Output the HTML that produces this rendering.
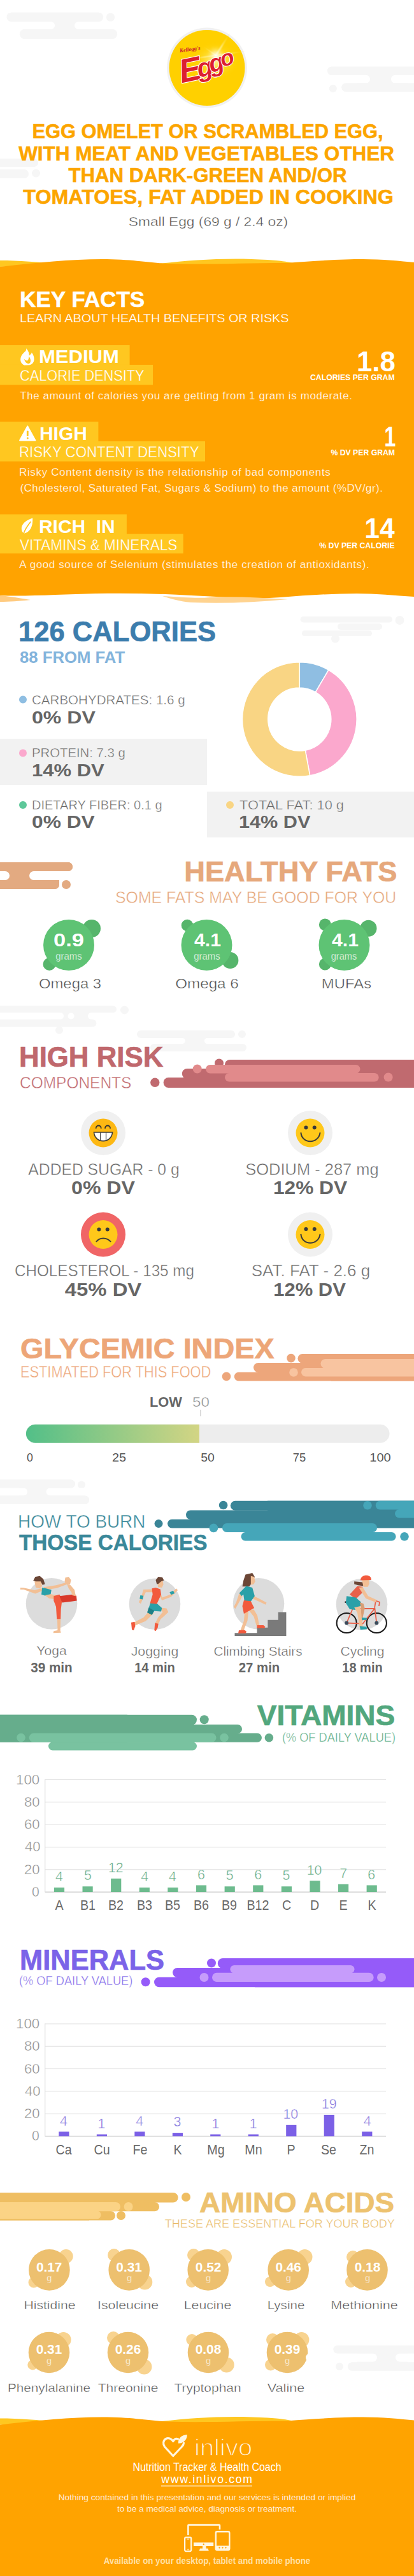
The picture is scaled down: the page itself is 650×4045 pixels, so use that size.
<!DOCTYPE html>
<html><head><meta charset="utf-8">
<style>
*{margin:0;padding:0;box-sizing:border-box}
html,body{width:650px;height:4045px;overflow:hidden;background:#fff}
body{font-family:"Liberation Sans",sans-serif;position:relative}
.t{position:absolute;white-space:nowrap}
</style></head><body>
<svg width="650" height="4045" style="position:absolute;left:0;top:0"><rect x="10.6" y="19.7" width="151.4" height="14.3" rx="7.2" fill="#f6f6f6"/><circle cx="173.5" cy="27.0" r="6.6" fill="#f6f6f6"/><rect x="31.0" y="46.0" width="153.0" height="15.0" rx="7.5" fill="#f6f6f6"/><rect x="62.0" y="30.0" width="88.0" height="20.0" fill="#f6f6f6"/><rect x="-20.0" y="34.0" width="106.0" height="12.0" rx="6.0" fill="#fff"/><rect x="117.0" y="34.0" width="133.0" height="12.0" rx="6.0" fill="#fff"/><rect x="31.0" y="46.0" width="153.0" height="15.0" rx="7.5" fill="#f6f6f6"/><rect x="10.6" y="19.7" width="151.4" height="14.3" rx="7.2" fill="#f6f6f6"/><rect x="514.0" y="104.7" width="186.0" height="13.1" rx="6.5" fill="#f6f6f6"/><rect x="536.4" y="130.6" width="163.6" height="13.4" rx="6.7" fill="#f6f6f6"/><circle cx="522.8" cy="139.0" r="6.0" fill="#f6f6f6"/><rect x="560.0" y="110.0" width="80.0" height="28.0" fill="#f6f6f6"/><rect x="480.0" y="117.8" width="101.0" height="12.8" rx="6.4" fill="#fff"/><rect x="614.0" y="117.8" width="146.0" height="12.8" rx="6.4" fill="#fff"/><rect x="514.0" y="104.7" width="186.0" height="13.1" rx="6.5" fill="#f6f6f6"/><rect x="536.4" y="130.6" width="163.6" height="13.4" rx="6.7" fill="#f6f6f6"/><rect x="-40.0" y="249.0" width="100.0" height="13.0" rx="6.5" fill="#f6f6f6"/><rect x="-40.0" y="266.0" width="85.0" height="14.0" rx="7.0" fill="#f6f6f6"/><circle cx="56.5" cy="272.0" r="6.5" fill="#f6f6f6"/><circle cx="325.0" cy="106.5" r="63.0" fill="#f1f1f1"/><circle cx="325.0" cy="106.5" r="59.5" fill="#ffd000"/><defs><radialGradient id="burst" cx="0.5" cy="0.5" r="0.5"><stop offset="0" stop-color="#fff8c0"/><stop offset="0.5" stop-color="#ffe040" stop-opacity="0.6"/><stop offset="1" stop-color="#ffd000" stop-opacity="0"/></radialGradient></defs><ellipse cx="338" cy="95" rx="38" ry="30" fill="url(#burst)"/></svg><svg width="650" height="200" style="position:absolute;left:0;top:0"><defs><radialGradient id="bst" cx="0.5" cy="0.5" r="0.5"><stop offset="0" stop-color="#ffffff" stop-opacity="0.95"/><stop offset="0.35" stop-color="#fff6b0" stop-opacity="0.7"/><stop offset="1" stop-color="#ffd000" stop-opacity="0"/></radialGradient></defs><ellipse cx="339" cy="87" rx="42" ry="3.5" fill="url(#bst)" transform="rotate(-58 339 87)" opacity="0.9"/><ellipse cx="339" cy="87" rx="48" ry="3" fill="url(#bst)" transform="rotate(-8 339 87)" opacity="0.8"/><ellipse cx="339" cy="87" rx="26" ry="2.5" fill="url(#bst)" transform="rotate(35 339 87)" opacity="0.7"/><circle cx="339" cy="87" r="17" fill="url(#bst)" opacity="0.9"/><g font-family="Liberation Sans" font-weight="bold" font-style="italic" fill="#dc1f30" stroke="#ffffff" stroke-width="2.2" paint-order="stroke" stroke-linejoin="round"><text x="281" y="127" font-size="52" transform="rotate(-12 300 110)">E</text><text x="309" y="120" font-size="41" transform="rotate(-12 320 105)">g</text><text x="328" y="113" font-size="39" transform="rotate(-14 335 100)">g</text><text x="346" y="104" font-size="35" transform="rotate(-16 352 93)">o</text></g><text x="282" y="80.5" font-family="Liberation Serif" font-weight="bold" font-style="italic" font-size="8.5" fill="#c8102e" transform="rotate(-8 295 77)">Kellogg's</text></svg><svg width="650" height="4045" style="position:absolute;left:0;top:0"><path d="M0 409 C30 409 60 411 95 416 L0 419 Z" fill="#ffc720"/><path d="M250 414 C300 408 360 404 420 408 C440 409 450 411 460 413 L250 420 Z" fill="#ffc720"/><path d="M0 419 C60 412 110 407 160 407 C210 407 235 413 265 414 C320 416 380 413 450 413 C500 409 540 407 570 407 C600 407 630 410 650 412 L650 937 C620 935 590 932 560 932 C520 932 480 935 440 938 C400 941 360 938 300 935 C250 932 200 931 150 932 C100 933 40 937 0 935 Z" fill="#ffa300"/><path d="M0 935 C20 937 35 940 48 942 C30 944 15 945 0 945 Z" fill="#ffcb80"/><path d="M255 936 C290 938 310 940 330 938 C370 936 410 939 452 941 C400 946 350 948 300 946 C280 944 268 940 255 936 Z" fill="#ffd38f"/><rect x="0.0" y="542.0" width="203.6" height="31.5" fill="#ffc720"/><rect x="0.0" y="572.9" width="240.0" height="31.4" fill="#ffc720"/><rect x="0.0" y="662.2" width="154.4" height="31.3" fill="#ffc720"/><rect x="0.0" y="692.9" width="322.0" height="31.6" fill="#ffc720"/><rect x="0.0" y="807.6" width="198.9" height="31.4" fill="#ffc720"/><rect x="0.0" y="838.3" width="287.7" height="30.8" fill="#ffc720"/><path d="M41.2 546.9 C43.5 550 46 553 45.7 558.4 C47.5 557 49.5 555.5 49.8 553.5 C52.5 557 53.8 561 53.5 565 C53.2 569 50.5 572 46.5 573.2 L38.3 573.6 C34.5 572 32 568.5 32.2 564.2 C32.5 558 37 554 40 551.5 C41 550 41.5 548.5 41.2 546.9 Z M38 563.5 C40 566 42.5 567 44 565.5 C45 564 45.2 561.5 45.3 559.6 C47.6 562.5 48.6 566 47.8 568.5 C47 571 44.5 571.5 42.5 570.5 C40.5 569.5 38.5 567 38 563.5 Z" fill="#fff" fill-rule="evenodd"/><path d="M43.25 669.5 L55.3 691.5 L31.2 691.5 Z" fill="#fff" stroke="#fff" stroke-width="2.2" stroke-linejoin="round"/><rect x="41.9" y="676.5" width="2.8" height="8.5" rx="1" fill="#ffc720"/><circle cx="43.3" cy="688" r="1.5" fill="#ffc720"/><path d="M51.2 813.5 C44 815.5 34.5 821 33.8 829 C33.5 833 35.2 836.2 37.5 837.7 C46.5 836 51.8 828 51.2 813.5 Z" fill="#fff"/><path d="M36.8 838.5 C39 832 42.5 826 48.5 819" fill="none" stroke="#ffc720" stroke-width="1.8"/></svg><svg width="650" height="4045" style="position:absolute;left:0;top:0"><rect x="471.5" y="968.0" width="144.5" height="9.5" rx="4.8" fill="#f6f6f6"/><circle cx="627.5" cy="974.0" r="7.0" fill="#f6f6f6"/><rect x="474.0" y="990.0" width="110.0" height="9.0" rx="4.5" fill="#f6f6f6"/><circle cx="526.5" cy="1003.0" r="6.5" fill="#f6f6f6"/><rect x="530.0" y="979.0" width="70.0" height="10.0" rx="5.0" fill="#f6f6f6"/><rect x="0.0" y="1160.0" width="325.0" height="73.0" fill="#f2f2f2"/><rect x="325.0" y="1243.0" width="325.0" height="72.0" fill="#f2f2f2"/><circle cx="36.0" cy="1098.5" r="6.0" fill="#8fbee2"/><circle cx="36.0" cy="1182.4" r="6.0" fill="#fba8cd"/><circle cx="36.0" cy="1264.0" r="6.0" fill="#5ec89a"/><circle cx="361.0" cy="1264.0" r="6.0" fill="#f9d584"/><path d="M470.30 1039.70 A89.8 89.8 0 0 1 515.84 1052.11 L495.41 1086.84 A49.5 49.5 0 0 0 470.30 1080.00 Z" fill="#8fbee2" stroke="#fff" stroke-width="1.5"/><path d="M515.84 1052.11 A89.8 89.8 0 0 1 486.63 1217.80 L479.30 1178.17 A49.5 49.5 0 0 0 495.41 1086.84 Z" fill="#fba8cd" stroke="#fff" stroke-width="1.5"/><path d="M486.63 1217.80 A89.8 89.8 0 1 1 470.30 1039.70 L470.30 1080.00 A49.5 49.5 0 1 0 479.30 1178.17 Z" fill="#f9d584" stroke="#fff" stroke-width="1.5"/></svg><svg width="650" height="4045" style="position:absolute;left:0;top:0"><rect x="-20.0" y="1354.0" width="134.0" height="14.0" rx="7.0" fill="#e3aa81"/><rect x="-20.0" y="1382.0" width="113.0" height="14.0" rx="7.0" fill="#e3aa81"/><rect x="0.0" y="1361.0" width="93.0" height="28.0" fill="#e3aa81"/><rect x="-30.0" y="1368.0" width="45.0" height="14.0" rx="7.0" fill="#fff"/><rect x="46.0" y="1368.0" width="214.0" height="14.0" rx="7.0" fill="#fff"/><rect x="-20.0" y="1354.0" width="134.0" height="14.0" rx="7.0" fill="#e3aa81"/><rect x="-20.0" y="1382.0" width="113.0" height="14.0" rx="7.0" fill="#e3aa81"/><circle cx="104.0" cy="1389.0" r="7.0" fill="#e3aa81"/><circle cx="144.0" cy="1458.0" r="14.0" fill="#56b56b"/><circle cx="77.5" cy="1514.0" r="10.0" fill="#56b56b"/><circle cx="108.0" cy="1484.0" r="40.0" fill="#5ec374"/><circle cx="294.0" cy="1453.0" r="9.3" fill="#56b56b"/><circle cx="361.4" cy="1508.0" r="13.0" fill="#56b56b"/><circle cx="324.5" cy="1484.0" r="40.0" fill="#5ec374"/><circle cx="510.4" cy="1452.0" r="9.5" fill="#56b56b"/><circle cx="578.5" cy="1457.7" r="13.0" fill="#56b56b"/><circle cx="510.4" cy="1514.0" r="9.5" fill="#56b56b"/><circle cx="540.5" cy="1484.0" r="40.0" fill="#5ec374"/><rect x="80.0" y="1585.0" width="65.0" height="21.0" fill="#f6f6f6"/><rect x="-30.0" y="1590.0" width="130.0" height="10.8" rx="5.4" fill="#fff"/><rect x="138.0" y="1590.0" width="162.0" height="10.8" rx="5.4" fill="#fff"/><circle cx="111.6" cy="1595.5" r="5.0" fill="#fff"/><rect x="-20.0" y="1579.6" width="203.0" height="10.4" rx="5.2" fill="#f6f6f6"/><circle cx="195.5" cy="1586.0" r="6.5" fill="#f6f6f6"/><rect x="-20.0" y="1600.8" width="171.4" height="11.7" rx="5.9" fill="#f6f6f6"/><circle cx="93.0" cy="1617.8" r="6.0" fill="#f6f6f6"/><rect x="250.0" y="1624.0" width="100.0" height="21.0" fill="#f6f6f6"/><rect x="180.0" y="1630.0" width="110.6" height="9.0" rx="4.5" fill="#fff"/><rect x="320.8" y="1630.0" width="129.2" height="9.0" rx="4.5" fill="#fff"/><rect x="215.0" y="1618.0" width="154.0" height="12.0" rx="6.0" fill="#f6f6f6"/><circle cx="380.0" cy="1624.0" r="6.0" fill="#f6f6f6"/><rect x="236.0" y="1639.0" width="151.0" height="12.0" rx="6.0" fill="#f6f6f6"/></svg><svg width="650" height="4045" style="position:absolute;left:0;top:0"><circle cx="243.3" cy="1699.8" r="7.2" fill="#c06a6f"/><rect x="256.6" y="1692.0" width="443.4" height="16.0" rx="8.0" fill="#c06a6f"/><rect x="285.8" y="1678.0" width="414.2" height="16.0" rx="8.0" fill="#c06a6f"/><circle cx="344.0" cy="1669.5" r="7.0" fill="#c06a6f"/><rect x="353.0" y="1664.0" width="347.0" height="16.0" rx="8.0" fill="#c06a6f"/><rect x="400.0" y="1664.0" width="250.0" height="44.0" fill="#c06a6f"/><circle cx="309.7" cy="1678.5" r="7.0" fill="#e18a8b"/><rect x="323.0" y="1672.0" width="242.5" height="13.5" rx="6.8" fill="#e18a8b"/><rect x="353.0" y="1685.0" width="241.7" height="13.5" rx="6.8" fill="#e18a8b"/><circle cx="609.6" cy="1691.5" r="7.0" fill="#e18a8b"/><circle cx="162.0" cy="1779.0" r="35.0" fill="#f0f0f0"/><circle cx="162.0" cy="1779.0" r="22.5" fill="#fdb813"/><circle cx="487.0" cy="1779.0" r="35.0" fill="#f0f0f0"/><circle cx="487.0" cy="1779.0" r="22.5" fill="#ffc81a"/><circle cx="162.0" cy="1938.5" r="35.0" fill="#f06566"/><circle cx="162.0" cy="1938.5" r="22.5" fill="#ffc81a"/><circle cx="487.0" cy="1938.5" r="35.0" fill="#f0f0f0"/><circle cx="487.0" cy="1938.5" r="22.5" fill="#ffc81a"/><path d="M150.7 1771.5 a4 4 0 0 1 8 0" fill="none" stroke="#333" stroke-width="1.8" stroke-linecap="round"/><path d="M165 1771.5 a4 4 0 0 1 8 0" fill="none" stroke="#333" stroke-width="1.8" stroke-linecap="round"/><path d="M147.5 1778 L176.5 1778 C176 1786 170 1791.6 162 1791.6 C154 1791.6 148 1786 147.5 1778 Z" fill="#fff" stroke="#3a3a3a" stroke-width="1.6"/><path d="M157.5 1778 V1791 M166.5 1778 V1791" stroke="#444" stroke-width="1.2"/><circle cx="480.4" cy="1770.6" r="3.0" fill="#3a3a3a"/><circle cx="493.7" cy="1770.6" r="3.0" fill="#3a3a3a"/><path d="M472.4 1778.3 C474 1797 500 1797 502.6 1778.3" fill="none" stroke="#3a3a3a" stroke-width="2"/><circle cx="480.4" cy="1930.1" r="3.0" fill="#3a3a3a"/><circle cx="493.7" cy="1930.1" r="3.0" fill="#3a3a3a"/><path d="M472.4 1937.8 C474 1956.5 500 1956.5 502.6 1937.8" fill="none" stroke="#3a3a3a" stroke-width="2"/><circle cx="155.4" cy="1930.4" r="3.0" fill="#3a3a3a"/><circle cx="168.7" cy="1930.4" r="3.0" fill="#3a3a3a"/><path d="M151 1950.0 C156 1942.5 168 1942.5 174 1950.0" fill="none" stroke="#3a3a3a" stroke-width="2"/></svg><svg width="650" height="4045" style="position:absolute;left:0;top:0"><circle cx="355.5" cy="2161.4" r="6.8" fill="#eda67b"/><rect x="367.8" y="2154.8" width="332.2" height="13.7" rx="6.8" fill="#eda67b"/><rect x="398.0" y="2140.0" width="302.0" height="15.0" rx="7.5" fill="#eda67b"/><circle cx="457.0" cy="2132.6" r="6.8" fill="#eda67b"/><rect x="467.5" y="2126.0" width="232.5" height="14.5" rx="7.2" fill="#eda67b"/><rect x="520.0" y="2126.0" width="130.0" height="42.5" fill="#eda67b"/><circle cx="461.0" cy="2155.0" r="6.8" fill="#f8c4a0"/><rect x="473.0" y="2148.0" width="227.0" height="13.5" rx="6.8" fill="#f8c4a0"/><rect x="503.5" y="2134.0" width="196.5" height="14.5" rx="7.2" fill="#f8c4a0"/><defs><linearGradient id="gig" x1="0" x2="1" y1="0" y2="0"><stop offset="0" stop-color="#52bf88"/><stop offset="1" stop-color="#d3d584"/></linearGradient></defs><rect x="40.9" y="2236.8" width="570.6" height="29.0" rx="14.5" fill="#ededed"/><path d="M55.4 2236.8 H313 V2265.8 H55.4 A14.5 14.5 0 0 1 55.4 2236.8 Z" fill="url(#gig)"/><rect x="314.2" y="2213.8" width="1.2" height="10.2" fill="#cccccc"/></svg><svg width="650" height="4045" style="position:absolute;left:0;top:0"><rect x="-20.0" y="2323.5" width="138.0" height="13.1" rx="6.5" fill="#f6f6f6"/><circle cx="128.0" cy="2331.5" r="6.0" fill="#f6f6f6"/><rect x="-20.0" y="2348.6" width="160.0" height="13.4" rx="6.7" fill="#f6f6f6"/><rect x="30.0" y="2330.0" width="80.0" height="25.0" fill="#f6f6f6"/><rect x="-30.0" y="2336.6" width="73.0" height="12.0" rx="6.0" fill="#fff"/><rect x="72.5" y="2336.6" width="127.5" height="12.0" rx="6.0" fill="#fff"/><rect x="-20.0" y="2323.5" width="138.0" height="13.1" rx="6.5" fill="#f6f6f6"/><rect x="-20.0" y="2348.6" width="160.0" height="13.4" rx="6.7" fill="#f6f6f6"/><circle cx="249.0" cy="2392.5" r="6.5" fill="#3a8597"/><rect x="263.0" y="2385.7" width="437.0" height="13.7" rx="6.9" fill="#3a8597"/><rect x="292.0" y="2371.5" width="408.0" height="14.5" rx="7.2" fill="#3a8597"/><circle cx="350.6" cy="2363.5" r="6.8" fill="#3a8597"/><rect x="361.8" y="2356.7" width="338.2" height="15.1" rx="7.6" fill="#3a8597"/><rect x="420.0" y="2356.7" width="230.0" height="35.3" fill="#3a8597"/><circle cx="335.4" cy="2399.4" r="6.8" fill="#45a6b9"/><rect x="349.0" y="2392.0" width="243.0" height="14.0" rx="7.0" fill="#45a6b9"/><rect x="378.5" y="2406.0" width="243.1" height="13.6" rx="6.8" fill="#45a6b9"/><circle cx="635.0" cy="2412.8" r="6.8" fill="#45a6b9"/><rect x="400.0" y="2392.0" width="160.0" height="14.0" fill="#45a6b9"/><circle cx="577.0" cy="2363.8" r="6.8" fill="#45a6b9"/><rect x="589.7" y="2356.7" width="110.3" height="13.8" rx="6.9" fill="#45a6b9"/><rect x="620.0" y="2370.0" width="80.0" height="13.5" rx="6.8" fill="#45a6b9"/><circle cx="81.0" cy="2518.3" r="40.3" fill="#dcdcdc"/><circle cx="243.0" cy="2518.7" r="40.3" fill="#dcdcdc"/><circle cx="406.0" cy="2518.2" r="40.3" fill="#dcdcdc"/><circle cx="568.0" cy="2519.3" r="40.3" fill="#dcdcdc"/></svg><svg width="650" height="4045" style="position:absolute;left:0;top:0"><path d="M31.9 2492.9 L37.2 2493.2 L54.2 2497.1 L66.2 2493.7 L68.6 2497.1 L55.4 2502.6 L37.2 2496.1 L31.9 2496.1 Z" fill="#f2bf95"/><path d="M68.6 2492.2 L88.0 2489.3 L103.7 2485.0 L106.1 2487.4 L89.2 2493.7 L71.1 2496.6 Z" fill="#f2bf95"/><path d="M102.5 2477.2 L107.8 2476.0 L111.6 2480.9 L110.2 2486.9 L103.7 2488.1 L101.5 2483.3 Z" fill="#f2bf95"/><path d="M54.2 2483.3 L63.8 2482.1 L66.2 2490.5 L62.6 2494.2 L56.1 2492.9 Z" fill="#f2bf95"/><path d="M52.2 2482.1 L55.4 2476.0 L62.6 2474.8 L68.2 2479.7 L70.6 2487.4 L66.7 2488.8 L63.8 2483.3 L56.1 2483.3 Z" fill="#6b4636"/><path d="M66.2 2492.9 L72.3 2494.2 L80.7 2496.6 L79.5 2503.8 L71.1 2505.7 L65.0 2503.8 Z" fill="#2aa0a8"/><path d="M70.6 2505.0 L79.5 2503.3 L89.2 2505.0 L86.8 2511.1 L77.1 2509.9 Z" fill="#f2bf95"/><path d="M84.3 2506.2 L93.3 2503.8 L97.6 2511.1 L95.7 2526.8 L95.2 2542.5 L89.2 2542.5 L88.0 2523.1 L84.3 2513.5 Z" fill="#f25a3d"/><path d="M89.9 2542.5 L95.2 2542.5 L94.7 2560.6 L95.7 2563.7 L83.6 2564.2 L84.3 2561.3 L90.4 2559.9 Z" fill="#f2bf95"/><path d="M93.3 2506.2 L114.5 2503.8 L119.9 2505.7 L120.6 2513.5 L112.1 2514.7 L97.6 2516.4 Z" fill="#d8392b"/><path d="M113.3 2505.0 L118.9 2506.2 L117.0 2496.6 L109.7 2488.1 L104.9 2486.9 L107.8 2494.2 L112.1 2500.2 Z" fill="#f2bf95"/><path d="M240.9 2495.4 L225.2 2496.1 L222.1 2506.2 L217.9 2515.9 L221.1 2518.3 L225.9 2506.2 L228.8 2500.2 L240.9 2500.2 Z" fill="#f2bf95"/><path d="M220.4 2505.0 L225.2 2505.7 L224.0 2511.5 L219.2 2510.6 Z" fill="#2aa0a8"/><path d="M250.1 2497.8 L254.9 2508.6 L267.5 2503.8 L276.6 2494.2 L279.1 2497.1 L268.7 2507.4 L254.2 2513.0 L248.6 2502.6 Z" fill="#f2bf95"/><path d="M266.3 2500.2 L271.8 2497.8 L274.2 2501.9 L268.7 2504.3 Z" fill="#2aa0a8"/><path d="M233.6 2530.4 L241.4 2533.3 L228.8 2545.4 L211.9 2552.6 L210.0 2547.8 L225.2 2540.0 Z" fill="#f2bf95"/><path d="M250.6 2524.3 L261.4 2525.6 L264.3 2531.6 L252.2 2542.5 L247.7 2552.1 L243.3 2549.7 L248.1 2540.0 L255.4 2531.6 Z" fill="#f2bf95"/><path d="M205.9 2547.8 L211.4 2546.8 L212.4 2553.3 L210.0 2559.9 L207.1 2558.9 Z" fill="#f25a3d"/><path d="M243.3 2548.5 L248.6 2549.7 L247.7 2555.7 L244.5 2561.3 L242.3 2559.9 Z" fill="#f25a3d"/><path d="M236.1 2517.1 L246.9 2518.3 L254.2 2525.1 L253.0 2530.4 L242.1 2529.7 L238.5 2535.7 L231.2 2532.1 Z" fill="#2aa0a8"/><path d="M233.6 2524.3 L242.1 2529.2 L238.5 2535.7 L231.2 2532.1 Z" fill="#1f7f86"/><path d="M238.5 2494.2 L244.5 2492.9 L251.8 2495.4 L253.0 2503.8 L246.2 2518.8 L235.6 2517.6 L239.7 2503.8 Z" fill="#f25a3d"/><path d="M246.9 2480.9 L255.4 2481.6 L256.6 2488.1 L254.2 2492.9 L248.1 2492.2 Z" fill="#f2bf95"/><path d="M244.5 2480.9 L248.6 2476.0 L254.9 2476.8 L257.3 2481.6 L253.0 2483.3 L248.6 2486.9 L246.2 2487.4 Z" fill="#6b4636"/><path d="M368.5 2564.2 L403.5 2564.2 L403.5 2555.7 L420.4 2555.7 L420.4 2543.7 L436.8 2543.7 L436.8 2531.6 L449.4 2531.6 L449.4 2569.0 L368.5 2569.0 Z" fill="#7a7a7a"/><path d="M385.4 2472.4 L396.2 2470.0 L399.9 2476.0 L396.2 2484.5 L391.4 2491.3 L380.5 2491.3 L382.2 2482.1 Z" fill="#6b4636"/><path d="M393.8 2474.8 L399.1 2476.0 L400.6 2483.3 L398.6 2487.4 L393.8 2488.8 Z" fill="#f2bf95"/><path d="M375.7 2501.4 L370.9 2515.9 L366.8 2523.6 L369.7 2526.0 L375.0 2516.4 L380.5 2506.2 Z" fill="#f2bf95"/><path d="M396.2 2505.0 L408.3 2511.1 L418.5 2516.4 L417.0 2519.8 L407.1 2514.9 L395.7 2510.1 Z" fill="#f2bf95"/><path d="M375.7 2501.4 L386.6 2490.5 L396.2 2492.9 L399.9 2506.2 L393.8 2514.7 L383.7 2514.0 L382.2 2503.8 L379.3 2506.2 Z" fill="#2aa0a8"/><path d="M384.2 2531.6 L390.2 2530.4 L388.5 2544.9 L382.2 2561.3 L377.4 2560.3 L382.9 2544.9 Z" fill="#f2bf95"/><path d="M390.2 2528.0 L398.6 2527.5 L404.0 2536.4 L407.3 2553.3 L403.0 2554.1 L398.6 2538.8 Z" fill="#f2bf95"/><path d="M382.9 2513.0 L393.8 2514.2 L399.1 2525.1 L382.9 2534.0 L380.5 2521.9 Z" fill="#f25a3d"/><path d="M375.0 2559.9 L384.2 2559.4 L387.1 2562.3 L385.6 2564.7 L374.0 2564.7 Z" fill="#f25a3d"/><path d="M404.0 2552.1 L413.6 2552.1 L416.5 2554.5 L415.1 2556.5 L403.0 2556.5 Z" fill="#f25a3d"/><circle cx="544.2" cy="2548.5" r="15.6" fill="none" stroke="#1a1a1a" stroke-width="2"/><circle cx="591.3" cy="2548.5" r="15.6" fill="none" stroke="#1a1a1a" stroke-width="2"/><path d="M544.2 2548.5 L553.8 2526.0 L588.1 2526.0 L569.5 2549.7 L544.2 2548.5 M588.1 2523.1 L591.3 2548.5 M588.1 2524.3 L590.0 2513.5 L596.1 2515.9 L594.9 2521.9" fill="none" stroke="#e8604a" stroke-width="1.8" stroke-linejoin="round"/><path d="M551.4 2517.1 L553.8 2526.0" stroke="#e8604a" stroke-width="1.8"/><rect x="541.5" y="2514.5" width="8" height="2.4" fill="#222"/><circle cx="544.2" cy="2548.5" r="3" fill="#3a4a5a"/><circle cx="591.3" cy="2548.5" r="3" fill="#3a4a5a"/><path d="M556.2 2483.3 569.5 2484.5 570.7 2490.5 562.3 2489.3 556.2 2487.4 Z" fill="#6b4636"/><path d="M568.3 2479.7 579.2 2480.1 579.9 2486.9 577.5 2491.7 570.7 2491.7 569.0 2484.5 Z" fill="#f2bf95"/><path d="M565.9 2481.6 C565.9 2471.2 584.0 2471.2 582.8 2480.9 Z" fill="#f25a3d"/><path d="M561.1 2490.5 569.5 2491.7 568.3 2501.4 558.6 2511.1 549.0 2503.8 Z" fill="#e8604a"/><path d="M563.5 2492.9 569.5 2492.2 578.0 2506.2 591.3 2512.3 590.0 2515.9 574.3 2509.9 Z" fill="#f2bf95"/><path d="M544.2 2506.2 558.6 2508.6 567.1 2515.9 565.9 2521.9 557.4 2528.0 549.0 2526.8 542.9 2517.1 Z" fill="#2aa0a8"/><path d="M564.7 2515.9 570.7 2518.3 572.7 2525.6 569.5 2540.0 574.3 2542.5 568.3 2544.9 565.9 2540.0 567.1 2524.3 Z" fill="#d99e74"/><path d="M556.2 2524.3 565.9 2521.9 569.5 2554.5 564.7 2555.7 561.1 2532.8 Z" fill="#f2bf95"/><path d="M564.7 2553.3 575.6 2554.5 576.0 2558.2 565.9 2558.9 Z" fill="#2aa0a8"/><path d="M567.8 2540.0 576.0 2540.5 575.6 2543.7 568.3 2543.9 Z" fill="#2aa0a8"/></svg><svg width="650" height="4045" style="position:absolute;left:0;top:0"><rect x="-10.0" y="2692.7" width="210.0" height="43.1" fill="#66ad8c"/><rect x="-20.0" y="2692.7" width="329.0" height="15.8" rx="7.9" fill="#66ad8c"/><circle cx="320.7" cy="2700.3" r="7.0" fill="#66ad8c"/><rect x="-20.0" y="2708.0" width="400.0" height="14.0" rx="7.0" fill="#66ad8c"/><rect x="-20.0" y="2721.6" width="431.0" height="14.2" rx="7.1" fill="#66ad8c"/><circle cx="422.4" cy="2728.7" r="6.8" fill="#66ad8c"/><circle cx="33.0" cy="2728.5" r="6.8" fill="#79c2a0"/><rect x="45.7" y="2721.6" width="293.8" height="14.2" rx="7.1" fill="#79c2a0"/><circle cx="352.0" cy="2728.5" r="6.8" fill="#79c2a0"/><rect x="76.0" y="2735.5" width="233.0" height="13.0" rx="6.5" fill="#79c2a0"/></svg><svg width="650" height="4045" style="position:absolute;left:0;top:0"><rect x="70.7" y="2794.0" width="535.3" height="1.1" fill="#e3e3e3"/><rect x="70.7" y="2829.3" width="535.3" height="1.1" fill="#e3e3e3"/><rect x="70.7" y="2864.6" width="535.3" height="1.1" fill="#e3e3e3"/><rect x="70.7" y="2899.9" width="535.3" height="1.1" fill="#e3e3e3"/><rect x="70.7" y="2935.2" width="535.3" height="1.1" fill="#e3e3e3"/><rect x="70.7" y="2970.5" width="535.3" height="1.1" fill="#e3e3e3"/><rect x="70.2" y="2794.0" width="1.1" height="177.0" fill="#dddddd"/><rect x="70.7" y="2970.4" width="535.3" height="1.3" fill="#d5d5d5"/><rect x="84.9" y="2963.9" width="16.2" height="7.1" fill="#6dbb8e"/><rect x="129.5" y="2962.2" width="16.2" height="8.8" fill="#6dbb8e"/><rect x="174.1" y="2949.8" width="16.2" height="21.2" fill="#6dbb8e"/><rect x="218.7" y="2963.9" width="16.2" height="7.1" fill="#6dbb8e"/><rect x="263.3" y="2963.9" width="16.2" height="7.1" fill="#6dbb8e"/><rect x="307.9" y="2960.4" width="16.2" height="10.6" fill="#6dbb8e"/><rect x="352.6" y="2962.2" width="16.2" height="8.8" fill="#6dbb8e"/><rect x="397.2" y="2960.4" width="16.2" height="10.6" fill="#6dbb8e"/><rect x="441.8" y="2962.2" width="16.2" height="8.8" fill="#6dbb8e"/><rect x="486.4" y="2953.3" width="16.2" height="17.7" fill="#6dbb8e"/><rect x="531.0" y="2958.6" width="16.2" height="12.4" fill="#6dbb8e"/><rect x="575.6" y="2960.4" width="16.2" height="10.6" fill="#6dbb8e"/><rect x="70.7" y="3177.4" width="535.3" height="1.1" fill="#e3e3e3"/><rect x="70.7" y="3212.7" width="535.3" height="1.1" fill="#e3e3e3"/><rect x="70.7" y="3248.0" width="535.3" height="1.1" fill="#e3e3e3"/><rect x="70.7" y="3283.3" width="535.3" height="1.1" fill="#e3e3e3"/><rect x="70.7" y="3318.6" width="535.3" height="1.1" fill="#e3e3e3"/><rect x="70.7" y="3353.9" width="535.3" height="1.1" fill="#e3e3e3"/><rect x="70.2" y="3177.4" width="1.1" height="177.0" fill="#dddddd"/><rect x="70.7" y="3353.8" width="535.3" height="1.3" fill="#d5d5d5"/><rect x="92.3" y="3347.3" width="16.2" height="7.1" fill="#7b60e6"/><rect x="151.8" y="3351.5" width="16.2" height="2.9" fill="#7b60e6"/><rect x="211.3" y="3347.3" width="16.2" height="7.1" fill="#7b60e6"/><rect x="270.8" y="3349.1" width="16.2" height="5.3" fill="#7b60e6"/><rect x="330.2" y="3351.5" width="16.2" height="2.9" fill="#7b60e6"/><rect x="389.7" y="3351.5" width="16.2" height="2.9" fill="#7b60e6"/><rect x="449.2" y="3336.8" width="16.2" height="17.7" fill="#7b60e6"/><rect x="508.7" y="3320.9" width="16.2" height="33.5" fill="#7b60e6"/><rect x="568.2" y="3347.3" width="16.2" height="7.1" fill="#7b60e6"/></svg><svg width="650" height="4045" style="position:absolute;left:0;top:0"><circle cx="228.6" cy="3112.3" r="7.0" fill="#955bf9"/><rect x="242.0" y="3104.7" width="458.0" height="15.6" rx="7.8" fill="#955bf9"/><rect x="271.0" y="3090.0" width="429.0" height="15.0" rx="7.5" fill="#955bf9"/><circle cx="332.0" cy="3082.5" r="7.0" fill="#955bf9"/><rect x="341.8" y="3075.0" width="358.2" height="16.0" rx="8.0" fill="#955bf9"/><rect x="400.0" y="3075.0" width="250.0" height="45.3" fill="#955bf9"/><circle cx="320.5" cy="3105.0" r="7.0" fill="#c69cfb"/><rect x="333.0" y="3097.8" width="253.7" height="14.2" rx="7.1" fill="#c69cfb"/><rect x="361.4" y="3086.0" width="195.1" height="12.5" rx="6.2" fill="#c69cfb"/><circle cx="599.0" cy="3105.0" r="7.0" fill="#c69cfb"/></svg><svg width="650" height="4045" style="position:absolute;left:0;top:0"><rect x="-10.0" y="3443.0" width="150.0" height="43.5" fill="#efbe62"/><rect x="-20.0" y="3443.0" width="299.6" height="15.5" rx="7.8" fill="#efbe62"/><circle cx="292.0" cy="3450.0" r="7.0" fill="#efbe62"/><rect x="-20.0" y="3458.0" width="270.0" height="14.3" rx="7.2" fill="#efbe62"/><rect x="-20.0" y="3472.0" width="201.0" height="14.5" rx="7.2" fill="#efbe62"/><circle cx="190.0" cy="3479.0" r="7.0" fill="#efbe62"/><rect x="-20.0" y="3458.0" width="209.0" height="14.3" rx="7.2" fill="#fbd385"/><circle cx="201.6" cy="3465.0" r="7.0" fill="#fbd385"/><rect x="-20.0" y="3471.5" width="178.5" height="12.8" rx="6.4" fill="#fbd385"/><circle cx="103.7" cy="3543.0" r="11.0" fill="#f8d38f"/><circle cx="53.0" cy="3584.0" r="8.5" fill="#f8d38f"/><circle cx="77.4" cy="3564.4" r="32.3" fill="#edc06f"/><circle cx="179.0" cy="3541.0" r="10.0" fill="#f8d38f"/><circle cx="227.3" cy="3583.4" r="12.0" fill="#f8d38f"/><circle cx="202.7" cy="3564.4" r="32.3" fill="#edc06f"/><circle cx="304.0" cy="3541.0" r="10.0" fill="#f8d38f"/><circle cx="352.0" cy="3544.0" r="12.0" fill="#f8d38f"/><circle cx="301.0" cy="3583.0" r="9.0" fill="#f8d38f"/><circle cx="326.7" cy="3564.4" r="32.3" fill="#edc06f"/><circle cx="478.5" cy="3544.0" r="12.0" fill="#f8d38f"/><circle cx="424.0" cy="3583.0" r="8.0" fill="#f8d38f"/><circle cx="452.7" cy="3564.4" r="32.3" fill="#edc06f"/><circle cx="554.0" cy="3544.0" r="10.0" fill="#f8d38f"/><circle cx="551.0" cy="3583.0" r="9.0" fill="#f8d38f"/><circle cx="576.5" cy="3564.4" r="32.3" fill="#edc06f"/><circle cx="99.6" cy="3674.0" r="12.0" fill="#f8d38f"/><circle cx="51.3" cy="3713.4" r="8.0" fill="#f8d38f"/><circle cx="77.0" cy="3694.0" r="32.3" fill="#edc06f"/><circle cx="178.0" cy="3671.0" r="10.0" fill="#f8d38f"/><circle cx="226.4" cy="3716.4" r="12.0" fill="#f8d38f"/><circle cx="201.0" cy="3694.0" r="32.3" fill="#edc06f"/><circle cx="301.3" cy="3674.0" r="9.0" fill="#f8d38f"/><circle cx="355.7" cy="3713.4" r="12.0" fill="#f8d38f"/><circle cx="327.0" cy="3694.0" r="32.3" fill="#edc06f"/><circle cx="428.0" cy="3674.0" r="10.0" fill="#f8d38f"/><circle cx="473.4" cy="3674.0" r="12.0" fill="#f8d38f"/><circle cx="425.0" cy="3713.4" r="9.0" fill="#f8d38f"/><circle cx="451.0" cy="3694.0" r="32.3" fill="#edc06f"/><rect x="523.5" y="3683.0" width="176.5" height="12.5" rx="6.2" fill="#f6f6f6"/><rect x="546.0" y="3709.6" width="154.0" height="13.0" rx="6.5" fill="#f6f6f6"/><circle cx="533.0" cy="3716.0" r="6.0" fill="#f6f6f6"/><rect x="560.0" y="3690.0" width="80.0" height="25.0" fill="#f6f6f6"/><rect x="480.0" y="3695.5" width="112.0" height="13.0" rx="6.5" fill="#fff"/><rect x="621.0" y="3695.5" width="139.0" height="13.0" rx="6.5" fill="#fff"/><rect x="523.5" y="3683.0" width="176.5" height="12.5" rx="6.2" fill="#f6f6f6"/><rect x="546.0" y="3709.6" width="154.0" height="13.0" rx="6.5" fill="#f6f6f6"/></svg><svg width="650" height="4045" style="position:absolute;left:0;top:0"><g transform="translate(0,3388.5)"><path d="M0 409 C30 409 60 411 95 416 L0 419 Z" fill="#ffc720"/><path d="M250 414 C300 408 360 404 420 408 C440 409 450 411 460 413 L250 420 Z" fill="#ffc720"/><path d="M0 419 C60 412 110 407 160 407 C210 407 235 413 265 414 C320 416 380 413 450 413 C500 409 540 407 570 407 C600 407 630 410 650 412 L650 700 L0 700 Z" fill="#ffa300"/></g><path d="M279.5 3830 C276 3828.5 273.5 3830.5 271.8 3833.5 C269 3829 264 3827.5 260.5 3829.5 C256 3832 255.5 3838 258.5 3842 L271.8 3856.5 L285.5 3842 C287.5 3840 288.5 3838 288.5 3836" fill="none" stroke="#fff6e0" stroke-width="3.2" stroke-linecap="round" stroke-linejoin="round"/><path d="M280 3836.8 C279 3829 285 3823.5 293.8 3823 C294 3831 288 3836.5 280 3836.8 Z" fill="#fff6e0"/><rect x="253.0" y="3903.0" width="143.0" height="1.3" fill="#ffffff"/><path d="M295.4 3992 V3966 Q295.4 3964.6 297 3964.6 H343.5 Q345 3964.6 345 3966 V3980" fill="none" stroke="#fff6e0" stroke-width="2.6"/><rect x="303.9" y="3992.4" width="31.5" height="5.6" fill="#fff6e0"/><circle cx="319.7" cy="3995.2" r="1.1" fill="#ffa300"/><rect x="318.0" y="3997.0" width="5.5" height="5.5" fill="#fff6e0"/><path d="M314 4001.7 H326.4 L327.8 4005.4 H312.6 Z" fill="#fff6e0"/><rect x="287" y="3981" width="16.5" height="28.5" rx="3" fill="#ffa300"/><rect x="290.1" y="3984.4" width="10.1" height="21.7" rx="2" fill="none" stroke="#fff6e0" stroke-width="2.2"/><rect x="293.5" y="3986.6" width="3.3" height="1.0" fill="#fff6e0"/><circle cx="295.2" cy="4003.3" r="0.9" fill="#fff6e0"/><rect x="335.5" y="3972" width="28" height="35.5" rx="3" fill="#ffa300"/><rect x="338.8" y="3975.3" width="21.5" height="28.9" rx="2.2" fill="none" stroke="#fff6e0" stroke-width="2.4"/><rect x="338.8" y="3997.5" width="21.5" height="6.7" fill="#fff6e0"/><circle cx="344.5" cy="4000.6" r="1.1" fill="#ffa300"/><circle cx="349.5" cy="4000.6" r="1.1" fill="#ffa300"/><circle cx="354.5" cy="4000.6" r="1.1" fill="#ffa300"/></svg><div class="t" id="t1" style="top:190.70px;font-size:31.2px;line-height:31.2px;color:#fca500;font-weight:bold;left:-73.90px;width:800px;text-align:center;transform-origin:50% 0;-webkit-text-stroke:0.6px #fca500;transform:scaleX(0.9878);">EGG OMELET OR SCRAMBLED EGG,</div>
<div class="t" id="t2" style="top:225.51px;font-size:31.2px;line-height:31.2px;color:#fca500;font-weight:bold;left:-75.70px;width:800px;text-align:center;transform-origin:50% 0;-webkit-text-stroke:0.6px #fca500;transform:scaleX(1.0080);">WITH MEAT AND VEGETABLES OTHER</div>
<div class="t" id="t3" style="top:260.40px;font-size:31.2px;line-height:31.2px;color:#fca500;font-weight:bold;left:-74.00px;width:800px;text-align:center;transform-origin:50% 0;-webkit-text-stroke:0.6px #fca500;transform:scaleX(0.9993);">THAN DARK-GREEN AND/OR</div>
<div class="t" id="t4" style="top:294.20px;font-size:31.2px;line-height:31.2px;color:#fca500;font-weight:bold;left:-73.40px;width:800px;text-align:center;transform-origin:50% 0;-webkit-text-stroke:0.6px #fca500;transform:scaleX(1.0324);">TOMATOES, FAT ADDED IN COOKING</div>
<div class="t" id="sub" style="top:337.60px;font-size:20.8px;line-height:20.8px;color:#4a4a4a;left:-72.80px;width:800px;text-align:center;transform-origin:50% 0;-webkit-text-stroke:0.45px #ffffff;transform:scaleX(1.0934);">Small Egg (69 g / 2.4 oz)</div>
<div class="t" id="kf" style="top:452.41px;font-size:35.36px;line-height:35.36px;color:#ffffff;font-weight:bold;left:30.61px;transform-origin:0 0;-webkit-text-stroke:0.5px #ffffff;transform:scaleX(0.9923);">KEY FACTS</div>
<div class="t" id="kfs" style="top:490.31px;font-size:19.14px;line-height:19.14px;color:#ffffff;left:30.60px;transform-origin:0 0;-webkit-text-stroke:0.25px #ffa300;transform:scaleX(1.0343);">LEARN ABOUT HEALTH BENEFITS OR RISKS</div>
<div class="t" id="m1" style="top:546.41px;font-size:28.6px;line-height:28.6px;color:#ffffff;font-weight:bold;left:60.70px;transform-origin:0 0;transform:scaleX(1.0845);">MEDIUM</div>
<div class="t" id="m2" style="top:578.61px;font-size:23.5px;line-height:23.5px;color:#ffffff;left:30.61px;transform-origin:0 0;-webkit-text-stroke:0.35px #ffc720;transform:scaleX(0.9245);">CALORIE DENSITY</div>
<div class="t" id="m3" style="top:613.71px;font-size:16.9px;line-height:16.9px;color:#ffffff;letter-spacing:0.647px;left:31.21px;transform-origin:0 0;-webkit-text-stroke:0.25px #ffa300;">The amount of calories you are getting from 1 gram is moderate.</div>
<div class="t" id="m4" style="top:545.60px;font-size:43.68px;line-height:43.68px;color:#ffffff;font-weight:bold;right:29.22px;transform-origin:100% 0;text-align:right;transform:scaleX(1.0012);">1.8</div>
<div class="t" id="m5" style="top:587.31px;font-size:12.9px;line-height:12.9px;color:#ffffff;font-weight:bold;right:30.36px;transform-origin:100% 0;text-align:right;transform:scaleX(0.9497);">CALORIES PER GRAM</div>
<div class="t" id="h1" style="top:667.00px;font-size:28.6px;line-height:28.6px;color:#ffffff;font-weight:bold;left:61.71px;transform-origin:0 0;transform:scaleX(1.0451);">HIGH</div>
<div class="t" id="h2" style="top:699.01px;font-size:23.5px;line-height:23.5px;color:#ffffff;left:30.22px;transform-origin:0 0;-webkit-text-stroke:0.35px #ffc720;transform:scaleX(0.9475);">RISKY CONTENT DENSITY</div>
<div class="t" id="h3" style="top:734.11px;font-size:16.9px;line-height:16.9px;color:#ffffff;letter-spacing:0.705px;left:30.00px;transform-origin:0 0;-webkit-text-stroke:0.25px #ffa300;">Risky Content density is the relationship of bad components</div>
<div class="t" id="h3b" style="top:759.01px;font-size:16.9px;line-height:16.9px;color:#ffffff;letter-spacing:0.490px;left:31.50px;transform-origin:0 0;-webkit-text-stroke:0.25px #ffa300;">(Cholesterol, Saturated Fat, Sugars &amp; Sodium) to the amount (%DV/gr).</div>
<div class="t" id="h4" style="top:663.50px;font-size:43.68px;line-height:43.68px;color:#ffffff;font-weight:bold;right:29.18px;transform-origin:100% 0;text-align:right;transform:scaleX(0.7471);">1</div>
<div class="t" id="h5" style="top:705.41px;font-size:12.9px;line-height:12.9px;color:#ffffff;font-weight:bold;right:29.76px;transform-origin:100% 0;text-align:right;transform:scaleX(0.9484);">% DV PER GRAM</div>
<div class="t" id="r1" style="top:812.50px;font-size:28.6px;line-height:28.6px;color:#ffffff;font-weight:bold;left:61.10px;transform-origin:0 0;transform:scaleX(1.0456);">RICH&nbsp; IN</div>
<div class="t" id="r2" style="top:844.61px;font-size:23.5px;line-height:23.5px;color:#ffffff;left:30.50px;transform-origin:0 0;-webkit-text-stroke:0.35px #ffc720;transform:scaleX(0.9576);">VITAMINS &amp; MINERALS</div>
<div class="t" id="r3" style="top:879.01px;font-size:16.9px;line-height:16.9px;color:#ffffff;letter-spacing:0.661px;left:30.31px;transform-origin:0 0;-webkit-text-stroke:0.25px #ffa300;">A good source of Selenium (stimulates the creation of antioxidants).</div>
<div class="t" id="r4" style="top:808.00px;font-size:43.68px;line-height:43.68px;color:#ffffff;font-weight:bold;right:30.05px;transform-origin:100% 0;text-align:right;transform:scaleX(0.9751);">14</div>
<div class="t" id="r5" style="top:850.91px;font-size:12.9px;line-height:12.9px;color:#ffffff;font-weight:bold;right:30.03px;transform-origin:100% 0;text-align:right;transform:scaleX(0.9498);">% DV PER CALORIE</div>
<div class="t" id="c1" style="top:969.61px;font-size:44.72px;line-height:44.72px;color:#3c7dad;font-weight:bold;left:29.41px;transform-origin:0 0;-webkit-text-stroke:0.7px #3c7dad;transform:scaleX(0.9746);">126 CALORIES</div>
<div class="t" id="c2" style="top:1020.10px;font-size:25.9px;line-height:25.9px;color:#83b4dc;font-weight:bold;left:30.82px;transform-origin:0 0;transform:scaleX(0.9929);">88 FROM FAT</div>
<div class="t" id="ca1" style="top:1089.00px;font-size:20.8px;line-height:20.8px;color:#666666;left:50.00px;transform-origin:0 0;-webkit-text-stroke:0.45px #ffffff;transform:scaleX(0.9883);">CARBOHYDRATES: 1.6 g</div>
<div class="t" id="ca2" style="top:1113.50px;font-size:27.04px;line-height:27.04px;color:#666666;font-weight:bold;left:50.01px;transform-origin:0 0;transform:scaleX(1.1867);">0% DV</div>
<div class="t" id="pr1" style="top:1171.60px;font-size:20.8px;line-height:20.8px;color:#666666;left:50.01px;transform-origin:0 0;-webkit-text-stroke:0.45px #f2f2f2;transform:scaleX(0.9767);">PROTEIN: 7.3 g</div>
<div class="t" id="pr2" style="top:1196.81px;font-size:27.04px;line-height:27.04px;color:#666666;font-weight:bold;left:50.00px;transform-origin:0 0;transform:scaleX(1.1468);">14% DV</div>
<div class="t" id="fi1" style="top:1253.60px;font-size:20.8px;line-height:20.8px;color:#666666;left:50.01px;transform-origin:0 0;-webkit-text-stroke:0.45px #ffffff;transform:scaleX(0.9621);">DIETARY FIBER: 0.1 g</div>
<div class="t" id="fi2" style="top:1277.50px;font-size:27.04px;line-height:27.04px;color:#666666;font-weight:bold;left:50.01px;transform-origin:0 0;transform:scaleX(1.1742);">0% DV</div>
<div class="t" id="tf1" style="top:1253.60px;font-size:20.8px;line-height:20.8px;color:#666666;left:376.00px;transform-origin:0 0;-webkit-text-stroke:0.45px #f2f2f2;transform:scaleX(1.0481);">TOTAL FAT: 10 g</div>
<div class="t" id="tf2" style="top:1277.50px;font-size:27.04px;line-height:27.04px;color:#666666;font-weight:bold;left:375.01px;transform-origin:0 0;transform:scaleX(1.1341);">14% DV</div>
<div class="t" id="hf1" style="top:1347.20px;font-size:44.72px;line-height:44.72px;color:#e6a87c;font-weight:bold;right:26.86px;transform-origin:100% 0;text-align:right;-webkit-text-stroke:0.7px #e6a87c;transform:scaleX(1.0112);">HEALTHY FATS</div>
<div class="t" id="hf2" style="top:1397.01px;font-size:24.96px;line-height:24.96px;color:#e6a87c;right:27.54px;transform-origin:100% 0;text-align:right;-webkit-text-stroke:0.45px #ffffff;transform:scaleX(0.9955);">SOME FATS MAY BE GOOD FOR YOU</div>
<div class="t" id="o3v" style="top:1461.00px;font-size:30.16px;line-height:30.16px;color:#ffffff;font-weight:bold;left:-292.50px;width:800px;text-align:center;transform-origin:50% 0;transform:scaleX(1.1463);">0.9</div>
<div class="t" id="o3g" style="top:1493.70px;font-size:15.6px;line-height:15.6px;color:#ffffff;left:-292.00px;width:800px;text-align:center;transform-origin:50% 0;-webkit-text-stroke:0.4px #5ec374;transform:scaleX(0.9558);">grams</div>
<div class="t" id="o3l" style="top:1533.40px;font-size:22.88px;line-height:22.88px;color:#4a4a4a;left:-289.80px;width:800px;text-align:center;transform-origin:50% 0;-webkit-text-stroke:0.45px #ffffff;transform:scaleX(1.0428);">Omega 3</div>
<div class="t" id="o6v" style="top:1461.00px;font-size:30.16px;line-height:30.16px;color:#ffffff;font-weight:bold;left:-74.00px;width:800px;text-align:center;transform-origin:50% 0;transform:scaleX(1.0023);">4.1</div>
<div class="t" id="o6g" style="top:1493.70px;font-size:15.6px;line-height:15.6px;color:#ffffff;left:-75.50px;width:800px;text-align:center;transform-origin:50% 0;-webkit-text-stroke:0.4px #5ec374;transform:scaleX(0.9558);">grams</div>
<div class="t" id="o6l" style="top:1533.40px;font-size:22.88px;line-height:22.88px;color:#4a4a4a;left:-75.25px;width:800px;text-align:center;transform-origin:50% 0;-webkit-text-stroke:0.45px #ffffff;transform:scaleX(1.0576);">Omega 6</div>
<div class="t" id="muv" style="top:1461.00px;font-size:30.16px;line-height:30.16px;color:#ffffff;font-weight:bold;left:142.29px;width:800px;text-align:center;transform-origin:50% 0;transform:scaleX(1.0017);">4.1</div>
<div class="t" id="mug" style="top:1493.70px;font-size:15.6px;line-height:15.6px;color:#ffffff;left:140.46px;width:800px;text-align:center;transform-origin:50% 0;-webkit-text-stroke:0.4px #5ec374;transform:scaleX(0.9346);">grams</div>
<div class="t" id="mul" style="top:1533.40px;font-size:22.88px;line-height:22.88px;color:#4a4a4a;left:143.99px;width:800px;text-align:center;transform-origin:50% 0;-webkit-text-stroke:0.45px #ffffff;transform:scaleX(1.0450);">MUFAs</div>
<div class="t" id="hr1" style="top:1638.32px;font-size:44.72px;line-height:44.72px;color:#c0686d;font-weight:bold;left:30.01px;transform-origin:0 0;-webkit-text-stroke:0.7px #c0686d;transform:scaleX(0.9795);">HIGH RISK</div>
<div class="t" id="hr2" style="top:1687.91px;font-size:24.96px;line-height:24.96px;color:#c0686d;left:30.81px;transform-origin:0 0;-webkit-text-stroke:0.45px #ffffff;transform:scaleX(0.9805);">COMPONENTS</div>
<div class="t" id="as1" style="top:1822.71px;font-size:26.0px;line-height:26.0px;color:#6a6a6a;left:-237.05px;width:800px;text-align:center;transform-origin:50% 0;-webkit-text-stroke:0.45px #ffffff;transform:scaleX(0.9492);">ADDED SUGAR - 0 g</div>
<div class="t" id="as2" style="top:1851.41px;font-size:28.6px;line-height:28.6px;color:#666666;font-weight:bold;left:-237.85px;width:800px;text-align:center;transform-origin:50% 0;transform:scaleX(1.1218);">0% DV</div>
<div class="t" id="so1" style="top:1822.71px;font-size:26.0px;line-height:26.0px;color:#6a6a6a;left:89.90px;width:800px;text-align:center;transform-origin:50% 0;-webkit-text-stroke:0.45px #ffffff;transform:scaleX(0.9789);">SODIUM - 287 mg</div>
<div class="t" id="so2" style="top:1851.41px;font-size:28.6px;line-height:28.6px;color:#666666;font-weight:bold;left:86.71px;width:800px;text-align:center;transform-origin:50% 0;transform:scaleX(1.1075);">12% DV</div>
<div class="t" id="ch1" style="top:1982.21px;font-size:26.0px;line-height:26.0px;color:#6a6a6a;left:-236.00px;width:800px;text-align:center;transform-origin:50% 0;-webkit-text-stroke:0.45px #ffffff;transform:scaleX(0.9325);">CHOLESTEROL - 135 mg</div>
<div class="t" id="ch2" style="top:2010.91px;font-size:28.6px;line-height:28.6px;color:#666666;font-weight:bold;left:-238.50px;width:800px;text-align:center;transform-origin:50% 0;transform:scaleX(1.1498);">45% DV</div>
<div class="t" id="sf1" style="top:1982.21px;font-size:26.0px;line-height:26.0px;color:#6a6a6a;left:87.74px;width:800px;text-align:center;transform-origin:50% 0;-webkit-text-stroke:0.45px #ffffff;transform:scaleX(1.0004);">SAT. FAT - 2.6 g</div>
<div class="t" id="sf2" style="top:2010.91px;font-size:28.6px;line-height:28.6px;color:#666666;font-weight:bold;left:86.05px;width:800px;text-align:center;transform-origin:50% 0;transform:scaleX(1.0826);">12% DV</div>
<div class="t" id="gi1" style="top:2096.32px;font-size:44.72px;line-height:44.72px;color:#eda678;font-weight:bold;left:31.60px;transform-origin:0 0;-webkit-text-stroke:0.7px #eda678;transform:scaleX(1.0462);">GLYCEMIC INDEX</div>
<div class="t" id="gi2" style="top:2142.31px;font-size:24.96px;line-height:24.96px;color:#eda678;left:31.60px;transform-origin:0 0;-webkit-text-stroke:0.45px #ffffff;transform:scaleX(0.8728);">ESTIMATED FOR THIS FOOD</div>
<div class="t" id="gi3" style="top:2190.51px;font-size:21.84px;line-height:21.84px;color:#666666;font-weight:bold;left:235.22px;transform-origin:0 0;transform:scaleX(0.9990);">LOW</div>
<div class="t" id="gi4" style="top:2190.51px;font-size:21.84px;line-height:21.84px;color:#888888;left:301.94px;transform-origin:0 0;-webkit-text-stroke:0.45px #ffffff;transform:scaleX(1.1051);">50</div>
<div class="t" id="gl0" style="top:2279.51px;font-size:18.72px;line-height:18.72px;color:#555555;left:-353.50px;width:800px;text-align:center;transform-origin:50% 0;transform:scaleX(0.9455);">0</div>
<div class="t" id="gl25" style="top:2279.51px;font-size:18.72px;line-height:18.72px;color:#555555;left:-213.25px;width:800px;text-align:center;transform-origin:50% 0;transform:scaleX(1.0585);">25</div>
<div class="t" id="gl50" style="top:2279.51px;font-size:18.72px;line-height:18.72px;color:#555555;left:-73.55px;width:800px;text-align:center;transform-origin:50% 0;transform:scaleX(1.0384);">50</div>
<div class="t" id="gl75" style="top:2279.51px;font-size:18.72px;line-height:18.72px;color:#555555;left:69.54px;width:800px;text-align:center;transform-origin:50% 0;transform:scaleX(0.9830);">75</div>
<div class="t" id="gl100" style="top:2279.51px;font-size:18.72px;line-height:18.72px;color:#555555;left:196.93px;width:800px;text-align:center;transform-origin:50% 0;transform:scaleX(1.0737);">100</div>
<div class="t" id="b1" style="top:2375.30px;font-size:29.12px;line-height:29.12px;color:#3a8899;left:28.31px;transform-origin:0 0;-webkit-text-stroke:0.45px #ffffff;transform:scaleX(0.9581);">HOW TO BURN</div>
<div class="t" id="b2" style="top:2403.61px;font-size:35.98px;line-height:35.98px;color:#3a8899;font-weight:bold;left:30.31px;transform-origin:0 0;-webkit-text-stroke:0.6px #3a8899;transform:scaleX(0.9235);">THOSE CALORIES</div>
<div class="t" id="yo1" style="top:2582.00px;font-size:20.8px;line-height:20.8px;color:#606060;left:-319.35px;width:800px;text-align:center;transform-origin:50% 0;-webkit-text-stroke:0.45px #ffffff;transform:scaleX(1.0150);">Yoga</div>
<div class="t" id="yo2" style="top:2608.41px;font-size:21.84px;line-height:21.84px;color:#666666;font-weight:bold;left:-319.30px;width:800px;text-align:center;transform-origin:50% 0;transform:scaleX(0.9472);">39 min</div>
<div class="t" id="jo1" style="top:2583.00px;font-size:20.8px;line-height:20.8px;color:#606060;left:-157.30px;width:800px;text-align:center;transform-origin:50% 0;-webkit-text-stroke:0.45px #ffffff;transform:scaleX(1.0249);">Jogging</div>
<div class="t" id="jo2" style="top:2608.41px;font-size:21.84px;line-height:21.84px;color:#666666;font-weight:bold;left:-157.15px;width:800px;text-align:center;transform-origin:50% 0;transform:scaleX(0.9201);">14 min</div>
<div class="t" id="cl1" style="top:2583.00px;font-size:20.8px;line-height:20.8px;color:#606060;left:5.25px;width:800px;text-align:center;transform-origin:50% 0;-webkit-text-stroke:0.45px #ffffff;transform:scaleX(0.9945);">Climbing Stairs</div>
<div class="t" id="cl2" style="top:2608.41px;font-size:21.84px;line-height:21.84px;color:#666666;font-weight:bold;left:6.67px;width:800px;text-align:center;transform-origin:50% 0;transform:scaleX(0.9318);">27 min</div>
<div class="t" id="cy1" style="top:2583.00px;font-size:20.8px;line-height:20.8px;color:#606060;left:168.96px;width:800px;text-align:center;transform-origin:50% 0;-webkit-text-stroke:0.45px #ffffff;transform:scaleX(1.0110);">Cycling</div>
<div class="t" id="cy2" style="top:2608.41px;font-size:21.84px;line-height:21.84px;color:#666666;font-weight:bold;left:168.74px;width:800px;text-align:center;transform-origin:50% 0;transform:scaleX(0.9166);">18 min</div>
<div class="t" id="v1" style="top:2672.01px;font-size:44.72px;line-height:44.72px;color:#52a77d;font-weight:bold;right:30.09px;transform-origin:100% 0;text-align:right;-webkit-text-stroke:0.7px #52a77d;transform:scaleX(1.0298);">VITAMINS</div>
<div class="t" id="v2" style="top:2718.51px;font-size:19.55px;line-height:19.55px;color:#52a77d;right:28.85px;transform-origin:100% 0;text-align:right;-webkit-text-stroke:0.45px #ffffff;transform:scaleX(0.9326);">(% OF DAILY VALUE)</div>
<div class="t" id="mi1" style="top:3055.70px;font-size:44.72px;line-height:44.72px;color:#7b63e8;font-weight:bold;left:30.61px;transform-origin:0 0;-webkit-text-stroke:0.7px #7b63e8;transform:scaleX(0.9720);">MINERALS</div>
<div class="t" id="mi2" style="top:3101.20px;font-size:19.55px;line-height:19.55px;color:#7b63e8;left:29.61px;transform-origin:0 0;-webkit-text-stroke:0.45px #ffffff;transform:scaleX(0.9336);">(% OF DAILY VALUE)</div>
<div class="t" id="am1" style="top:3437.01px;font-size:44.72px;line-height:44.72px;color:#edc26f;font-weight:bold;right:30.82px;transform-origin:100% 0;text-align:right;-webkit-text-stroke:0.7px #edc26f;transform:scaleX(1.0232);">AMINO ACIDS</div>
<div class="t" id="am2" style="top:3481.60px;font-size:19.24px;line-height:19.24px;color:#e8b862;right:30.31px;transform-origin:100% 0;text-align:right;-webkit-text-stroke:0.45px #ffffff;transform:scaleX(0.9381);">THESE ARE ESSENTIAL FOR YOUR BODY</div>
<div class="t" id="vcy100" style="top:2782.51px;font-size:22.88px;line-height:22.88px;color:#8a8a8a;right:587.85px;transform-origin:100% 0;text-align:right;-webkit-text-stroke:0.45px #ffffff;transform:scaleX(0.9741);">100</div>
<div class="t" id="vcy80" style="top:2817.80px;font-size:22.88px;line-height:22.88px;color:#8a8a8a;right:587.53px;transform-origin:100% 0;text-align:right;-webkit-text-stroke:0.45px #ffffff;transform:scaleX(0.9609);">80</div>
<div class="t" id="vcy60" style="top:2853.11px;font-size:22.88px;line-height:22.88px;color:#8a8a8a;right:587.47px;transform-origin:100% 0;text-align:right;-webkit-text-stroke:0.45px #ffffff;transform:scaleX(0.9626);">60</div>
<div class="t" id="vcy40" style="top:2888.40px;font-size:22.88px;line-height:22.88px;color:#8a8a8a;right:586.55px;transform-origin:100% 0;text-align:right;-webkit-text-stroke:0.45px #ffffff;transform:scaleX(0.9609);">40</div>
<div class="t" id="vcy20" style="top:2923.71px;font-size:22.88px;line-height:22.88px;color:#8a8a8a;right:587.47px;transform-origin:100% 0;text-align:right;-webkit-text-stroke:0.45px #ffffff;transform:scaleX(0.9626);">20</div>
<div class="t" id="vcy0" style="top:2959.01px;font-size:22.88px;line-height:22.88px;color:#8a8a8a;right:588.24px;transform-origin:100% 0;text-align:right;-webkit-text-stroke:0.45px #ffffff;transform:scaleX(0.9271);">0</div>
<div class="t" id="vcxA" style="top:2981.32px;font-size:22.36px;line-height:22.36px;color:#6a6a6a;left:-306.97px;width:800px;text-align:center;transform-origin:50% 0;transform:scaleX(0.8800);">A</div>
<div class="t" id="vcvA" style="top:2937.24px;font-size:21.32px;line-height:21.32px;color:#5ea883;left:-306.97px;width:800px;text-align:center;transform-origin:50% 0;-webkit-text-stroke:0.45px #ffffff;">4</div>
<div class="t" id="vcxB1" style="top:2981.32px;font-size:22.36px;line-height:22.36px;color:#6a6a6a;left:-262.10px;width:800px;text-align:center;transform-origin:50% 0;transform:scaleX(0.8800);">B1</div>
<div class="t" id="vcvB1" style="top:2935.49px;font-size:21.32px;line-height:21.32px;color:#5ea883;left:-262.10px;width:800px;text-align:center;transform-origin:50% 0;-webkit-text-stroke:0.45px #ffffff;">5</div>
<div class="t" id="vcxB2" style="top:2981.32px;font-size:22.36px;line-height:22.36px;color:#6a6a6a;left:-218.23px;width:800px;text-align:center;transform-origin:50% 0;transform:scaleX(0.8800);">B2</div>
<div class="t" id="vcvB2" style="top:2923.12px;font-size:21.32px;line-height:21.32px;color:#5ea883;left:-218.23px;width:800px;text-align:center;transform-origin:50% 0;-webkit-text-stroke:0.45px #ffffff;">12</div>
<div class="t" id="vcxB3" style="top:2981.32px;font-size:22.36px;line-height:22.36px;color:#6a6a6a;left:-173.37px;width:800px;text-align:center;transform-origin:50% 0;transform:scaleX(0.8800);">B3</div>
<div class="t" id="vcvB3" style="top:2937.24px;font-size:21.32px;line-height:21.32px;color:#5ea883;left:-172.87px;width:800px;text-align:center;transform-origin:50% 0;-webkit-text-stroke:0.45px #ffffff;">4</div>
<div class="t" id="vcxB5" style="top:2981.32px;font-size:22.36px;line-height:22.36px;color:#6a6a6a;left:-129.00px;width:800px;text-align:center;transform-origin:50% 0;transform:scaleX(0.8800);">B5</div>
<div class="t" id="vcvB5" style="top:2937.24px;font-size:21.32px;line-height:21.32px;color:#5ea883;left:-129.00px;width:800px;text-align:center;transform-origin:50% 0;-webkit-text-stroke:0.45px #ffffff;">4</div>
<div class="t" id="vcxB6" style="top:2981.32px;font-size:22.36px;line-height:22.36px;color:#6a6a6a;left:-84.13px;width:800px;text-align:center;transform-origin:50% 0;transform:scaleX(0.8800);">B6</div>
<div class="t" id="vcvB6" style="top:2933.71px;font-size:21.32px;line-height:21.32px;color:#5ea883;left:-84.13px;width:800px;text-align:center;transform-origin:50% 0;-webkit-text-stroke:0.45px #ffffff;">6</div>
<div class="t" id="vcxB9" style="top:2981.32px;font-size:22.36px;line-height:22.36px;color:#6a6a6a;left:-40.27px;width:800px;text-align:center;transform-origin:50% 0;transform:scaleX(0.8800);">B9</div>
<div class="t" id="vcvB9" style="top:2935.49px;font-size:21.32px;line-height:21.32px;color:#5ea883;left:-39.27px;width:800px;text-align:center;transform-origin:50% 0;-webkit-text-stroke:0.45px #ffffff;">5</div>
<div class="t" id="vcxB12" style="top:2981.32px;font-size:22.36px;line-height:22.36px;color:#6a6a6a;left:5.27px;width:800px;text-align:center;transform-origin:50% 0;transform:scaleX(0.8800);">B12</div>
<div class="t" id="vcvB12" style="top:2933.71px;font-size:21.32px;line-height:21.32px;color:#5ea883;left:5.10px;width:800px;text-align:center;transform-origin:50% 0;-webkit-text-stroke:0.45px #ffffff;">6</div>
<div class="t" id="vcxC" style="top:2981.32px;font-size:22.36px;line-height:22.36px;color:#6a6a6a;left:49.87px;width:800px;text-align:center;transform-origin:50% 0;transform:scaleX(0.8800);">C</div>
<div class="t" id="vcvC" style="top:2935.49px;font-size:21.32px;line-height:21.32px;color:#5ea883;left:49.37px;width:800px;text-align:center;transform-origin:50% 0;-webkit-text-stroke:0.45px #ffffff;">5</div>
<div class="t" id="vcxD" style="top:2981.32px;font-size:22.36px;line-height:22.36px;color:#6a6a6a;left:93.99px;width:800px;text-align:center;transform-origin:50% 0;transform:scaleX(0.8800);">D</div>
<div class="t" id="vcvD" style="top:2926.65px;font-size:21.32px;line-height:21.32px;color:#5ea883;left:93.49px;width:800px;text-align:center;transform-origin:50% 0;-webkit-text-stroke:0.45px #ffffff;">10</div>
<div class="t" id="vcxE" style="top:2981.32px;font-size:22.36px;line-height:22.36px;color:#6a6a6a;left:139.09px;width:800px;text-align:center;transform-origin:50% 0;transform:scaleX(0.8800);">E</div>
<div class="t" id="vcvE" style="top:2931.96px;font-size:21.32px;line-height:21.32px;color:#5ea883;left:139.09px;width:800px;text-align:center;transform-origin:50% 0;-webkit-text-stroke:0.45px #ffffff;">7</div>
<div class="t" id="vcxK" style="top:2981.32px;font-size:22.36px;line-height:22.36px;color:#6a6a6a;left:183.71px;width:800px;text-align:center;transform-origin:50% 0;transform:scaleX(0.8800);">K</div>
<div class="t" id="vcvK" style="top:2933.71px;font-size:21.32px;line-height:21.32px;color:#5ea883;left:183.21px;width:800px;text-align:center;transform-origin:50% 0;-webkit-text-stroke:0.45px #ffffff;">6</div>
<div class="t" id="mcy100" style="top:3165.90px;font-size:22.88px;line-height:22.88px;color:#8a8a8a;right:587.85px;transform-origin:100% 0;text-align:right;-webkit-text-stroke:0.45px #ffffff;transform:scaleX(0.9741);">100</div>
<div class="t" id="mcy80" style="top:3201.21px;font-size:22.88px;line-height:22.88px;color:#8a8a8a;right:587.53px;transform-origin:100% 0;text-align:right;-webkit-text-stroke:0.45px #ffffff;transform:scaleX(0.9609);">80</div>
<div class="t" id="mcy60" style="top:3236.51px;font-size:22.88px;line-height:22.88px;color:#8a8a8a;right:587.47px;transform-origin:100% 0;text-align:right;-webkit-text-stroke:0.45px #ffffff;transform:scaleX(0.9626);">60</div>
<div class="t" id="mcy40" style="top:3271.80px;font-size:22.88px;line-height:22.88px;color:#8a8a8a;right:586.55px;transform-origin:100% 0;text-align:right;-webkit-text-stroke:0.45px #ffffff;transform:scaleX(0.9609);">40</div>
<div class="t" id="mcy20" style="top:3307.11px;font-size:22.88px;line-height:22.88px;color:#8a8a8a;right:587.47px;transform-origin:100% 0;text-align:right;-webkit-text-stroke:0.45px #ffffff;transform:scaleX(0.9626);">20</div>
<div class="t" id="mcy0" style="top:3342.40px;font-size:22.88px;line-height:22.88px;color:#8a8a8a;right:588.24px;transform-origin:100% 0;text-align:right;-webkit-text-stroke:0.45px #ffffff;transform:scaleX(0.9271);">0</div>
<div class="t" id="mcxCa" style="top:3364.70px;font-size:22.36px;line-height:22.36px;color:#6a6a6a;left:-299.99px;width:800px;text-align:center;transform-origin:50% 0;transform:scaleX(0.8800);">Ca</div>
<div class="t" id="mcvCa" style="top:3320.65px;font-size:21.32px;line-height:21.32px;color:#7d70dc;left:-299.99px;width:800px;text-align:center;transform-origin:50% 0;-webkit-text-stroke:0.45px #ffffff;">4</div>
<div class="t" id="mcxCu" style="top:3364.70px;font-size:22.36px;line-height:22.36px;color:#6a6a6a;left:-239.67px;width:800px;text-align:center;transform-origin:50% 0;transform:scaleX(0.8800);">Cu</div>
<div class="t" id="mcvCu" style="top:3324.81px;font-size:21.32px;line-height:21.32px;color:#7d70dc;left:-240.67px;width:800px;text-align:center;transform-origin:50% 0;-webkit-text-stroke:0.45px #ffffff;">1</div>
<div class="t" id="mcxFe" style="top:3364.70px;font-size:22.36px;line-height:22.36px;color:#6a6a6a;left:-180.34px;width:800px;text-align:center;transform-origin:50% 0;transform:scaleX(0.8800);">Fe</div>
<div class="t" id="mcvFe" style="top:3320.65px;font-size:21.32px;line-height:21.32px;color:#7d70dc;left:-180.84px;width:800px;text-align:center;transform-origin:50% 0;-webkit-text-stroke:0.45px #ffffff;">4</div>
<div class="t" id="mcxK" style="top:3364.70px;font-size:22.36px;line-height:22.36px;color:#6a6a6a;left:-121.02px;width:800px;text-align:center;transform-origin:50% 0;transform:scaleX(0.8800);">K</div>
<div class="t" id="mcvK" style="top:3322.40px;font-size:21.32px;line-height:21.32px;color:#7d70dc;left:-121.52px;width:800px;text-align:center;transform-origin:50% 0;-webkit-text-stroke:0.45px #ffffff;">3</div>
<div class="t" id="mcxMg" style="top:3364.70px;font-size:22.36px;line-height:22.36px;color:#6a6a6a;left:-61.20px;width:800px;text-align:center;transform-origin:50% 0;transform:scaleX(0.8800);">Mg</div>
<div class="t" id="mcvMg" style="top:3324.81px;font-size:21.32px;line-height:21.32px;color:#7d70dc;left:-61.70px;width:800px;text-align:center;transform-origin:50% 0;-webkit-text-stroke:0.45px #ffffff;">1</div>
<div class="t" id="mcxMn" style="top:3364.70px;font-size:22.36px;line-height:22.36px;color:#6a6a6a;left:-2.19px;width:800px;text-align:center;transform-origin:50% 0;transform:scaleX(0.8800);">Mn</div>
<div class="t" id="mcvMn" style="top:3324.81px;font-size:21.32px;line-height:21.32px;color:#7d70dc;left:-2.38px;width:800px;text-align:center;transform-origin:50% 0;-webkit-text-stroke:0.45px #ffffff;">1</div>
<div class="t" id="mcxP" style="top:3364.70px;font-size:22.36px;line-height:22.36px;color:#6a6a6a;left:57.32px;width:800px;text-align:center;transform-origin:50% 0;transform:scaleX(0.8800);">P</div>
<div class="t" id="mcvP" style="top:3310.06px;font-size:21.32px;line-height:21.32px;color:#7d70dc;left:56.32px;width:800px;text-align:center;transform-origin:50% 0;-webkit-text-stroke:0.45px #ffffff;">10</div>
<div class="t" id="mcxSe" style="top:3364.70px;font-size:22.36px;line-height:22.36px;color:#6a6a6a;left:116.28px;width:800px;text-align:center;transform-origin:50% 0;transform:scaleX(0.8800);">Se</div>
<div class="t" id="mcvSe" style="top:3294.18px;font-size:21.32px;line-height:21.32px;color:#7d70dc;left:116.78px;width:800px;text-align:center;transform-origin:50% 0;-webkit-text-stroke:0.45px #ffffff;">19</div>
<div class="t" id="mcxZn" style="top:3364.70px;font-size:22.36px;line-height:22.36px;color:#6a6a6a;left:176.26px;width:800px;text-align:center;transform-origin:50% 0;transform:scaleX(0.8800);">Zn</div>
<div class="t" id="mcvZn" style="top:3320.65px;font-size:21.32px;line-height:21.32px;color:#7d70dc;left:176.76px;width:800px;text-align:center;transform-origin:50% 0;-webkit-text-stroke:0.45px #ffffff;">4</div>
<div class="t" id="aaHistv" style="top:3549.60px;font-size:20.8px;line-height:20.8px;color:#ffffff;font-weight:bold;left:-322.80px;width:800px;text-align:center;transform-origin:50% 0;">0.17</div>
<div class="t" id="aaHistg" style="top:3570.31px;font-size:14.56px;line-height:14.56px;color:#ffffff;left:-322.80px;width:800px;text-align:center;transform-origin:50% 0;-webkit-text-stroke:0.4px #edc06f;">g</div>
<div class="t" id="aaHistl" style="top:3610.00px;font-size:19.24px;line-height:19.24px;color:#4a4a4a;left:-321.80px;width:800px;text-align:center;transform-origin:50% 0;-webkit-text-stroke:0.45px #ffffff;transform:scaleX(1.0996);">Histidine</div>
<div class="t" id="aaIsolv" style="top:3549.60px;font-size:20.8px;line-height:20.8px;color:#ffffff;font-weight:bold;left:-197.40px;width:800px;text-align:center;transform-origin:50% 0;">0.31</div>
<div class="t" id="aaIsolg" style="top:3570.31px;font-size:14.56px;line-height:14.56px;color:#ffffff;left:-196.90px;width:800px;text-align:center;transform-origin:50% 0;-webkit-text-stroke:0.4px #edc06f;">g</div>
<div class="t" id="aaIsoll" style="top:3610.00px;font-size:19.24px;line-height:19.24px;color:#4a4a4a;left:-198.60px;width:800px;text-align:center;transform-origin:50% 0;-webkit-text-stroke:0.45px #ffffff;transform:scaleX(1.1090);">Isoleucine</div>
<div class="t" id="aaLeucv" style="top:3549.60px;font-size:20.8px;line-height:20.8px;color:#ffffff;font-weight:bold;left:-72.90px;width:800px;text-align:center;transform-origin:50% 0;">0.52</div>
<div class="t" id="aaLeucg" style="top:3570.31px;font-size:14.56px;line-height:14.56px;color:#ffffff;left:-72.90px;width:800px;text-align:center;transform-origin:50% 0;-webkit-text-stroke:0.4px #edc06f;">g</div>
<div class="t" id="aaLeucl" style="top:3610.00px;font-size:19.24px;line-height:19.24px;color:#4a4a4a;left:-74.00px;width:800px;text-align:center;transform-origin:50% 0;-webkit-text-stroke:0.45px #ffffff;transform:scaleX(1.1069);">Leucine</div>
<div class="t" id="aaLysiv" style="top:3549.60px;font-size:20.8px;line-height:20.8px;color:#ffffff;font-weight:bold;left:52.71px;width:800px;text-align:center;transform-origin:50% 0;">0.46</div>
<div class="t" id="aaLysig" style="top:3570.31px;font-size:14.56px;line-height:14.56px;color:#ffffff;left:52.71px;width:800px;text-align:center;transform-origin:50% 0;-webkit-text-stroke:0.4px #edc06f;">g</div>
<div class="t" id="aaLysil" style="top:3610.00px;font-size:19.24px;line-height:19.24px;color:#4a4a4a;left:49.19px;width:800px;text-align:center;transform-origin:50% 0;-webkit-text-stroke:0.45px #ffffff;transform:scaleX(1.0693);">Lysine</div>
<div class="t" id="aaMethv" style="top:3549.60px;font-size:20.8px;line-height:20.8px;color:#ffffff;font-weight:bold;left:177.00px;width:800px;text-align:center;transform-origin:50% 0;">0.18</div>
<div class="t" id="aaMethg" style="top:3570.31px;font-size:14.56px;line-height:14.56px;color:#ffffff;left:177.00px;width:800px;text-align:center;transform-origin:50% 0;-webkit-text-stroke:0.4px #edc06f;">g</div>
<div class="t" id="aaMethl" style="top:3610.00px;font-size:19.24px;line-height:19.24px;color:#4a4a4a;left:172.33px;width:800px;text-align:center;transform-origin:50% 0;-webkit-text-stroke:0.45px #ffffff;transform:scaleX(1.1215);">Methionine</div>
<div class="t" id="aaPhenv" style="top:3679.20px;font-size:20.8px;line-height:20.8px;color:#ffffff;font-weight:bold;left:-323.00px;width:800px;text-align:center;transform-origin:50% 0;">0.31</div>
<div class="t" id="aaPheng" style="top:3699.91px;font-size:14.56px;line-height:14.56px;color:#ffffff;left:-323.00px;width:800px;text-align:center;transform-origin:50% 0;-webkit-text-stroke:0.4px #edc06f;">g</div>
<div class="t" id="aaPhenl" style="top:3739.60px;font-size:19.24px;line-height:19.24px;color:#4a4a4a;left:-322.70px;width:800px;text-align:center;transform-origin:50% 0;-webkit-text-stroke:0.45px #ffffff;transform:scaleX(1.0774);">Phenylalanine</div>
<div class="t" id="aaThrev" style="top:3679.20px;font-size:20.8px;line-height:20.8px;color:#ffffff;font-weight:bold;left:-199.00px;width:800px;text-align:center;transform-origin:50% 0;">0.26</div>
<div class="t" id="aaThreg" style="top:3699.91px;font-size:14.56px;line-height:14.56px;color:#ffffff;left:-199.00px;width:800px;text-align:center;transform-origin:50% 0;-webkit-text-stroke:0.4px #edc06f;">g</div>
<div class="t" id="aaThrel" style="top:3739.60px;font-size:19.24px;line-height:19.24px;color:#4a4a4a;left:-199.40px;width:800px;text-align:center;transform-origin:50% 0;-webkit-text-stroke:0.45px #ffffff;transform:scaleX(1.0935);">Threonine</div>
<div class="t" id="aaTrypv" style="top:3679.20px;font-size:20.8px;line-height:20.8px;color:#ffffff;font-weight:bold;left:-73.00px;width:800px;text-align:center;transform-origin:50% 0;">0.08</div>
<div class="t" id="aaTrypg" style="top:3699.91px;font-size:14.56px;line-height:14.56px;color:#ffffff;left:-73.00px;width:800px;text-align:center;transform-origin:50% 0;-webkit-text-stroke:0.4px #edc06f;">g</div>
<div class="t" id="aaTrypl" style="top:3739.60px;font-size:19.24px;line-height:19.24px;color:#4a4a4a;left:-74.00px;width:800px;text-align:center;transform-origin:50% 0;-webkit-text-stroke:0.45px #ffffff;transform:scaleX(1.0886);">Tryptophan</div>
<div class="t" id="aaValiv" style="top:3679.20px;font-size:20.8px;line-height:20.8px;color:#ffffff;font-weight:bold;left:51.00px;width:800px;text-align:center;transform-origin:50% 0;">0.39</div>
<div class="t" id="aaValig" style="top:3699.91px;font-size:14.56px;line-height:14.56px;color:#ffffff;left:51.00px;width:800px;text-align:center;transform-origin:50% 0;-webkit-text-stroke:0.4px #edc06f;">g</div>
<div class="t" id="aaValil" style="top:3739.60px;font-size:19.24px;line-height:19.24px;color:#4a4a4a;left:49.00px;width:800px;text-align:center;transform-origin:50% 0;-webkit-text-stroke:0.45px #ffffff;transform:scaleX(1.1223);">Valine</div>
<div class="t" id="f1" style="top:3824.50px;font-size:37.44px;line-height:37.44px;color:#fff6e0;left:304.51px;transform-origin:0 0;-webkit-text-stroke:1.3px #ffa300;transform:scaleX(1.0686);">inlivo</div>
<div class="t" id="f2" style="top:3866.01px;font-size:17.68px;line-height:17.68px;color:#ffffff;left:-75.25px;width:800px;text-align:center;transform-origin:50% 0;transform:scaleX(0.9027);">Nutrition Tracker &amp; Health Coach</div>
<div class="t" id="f3" style="top:3884.51px;font-size:17.68px;line-height:17.68px;color:#ffffff;letter-spacing:1.692px;left:-74.50px;width:800px;text-align:center;transform-origin:50% 0;">www.inlivo.com</div>
<div class="t" id="f4" style="top:3915.00px;font-size:13.52px;line-height:13.52px;color:#ffffff;left:-75.25px;width:800px;text-align:center;transform-origin:50% 0;-webkit-text-stroke:0.2px #ffa300;transform:scaleX(1.0130);">Nothing contained in this presentation and our services is intended or implied</div>
<div class="t" id="f5" style="top:3933.00px;font-size:13.52px;line-height:13.52px;color:#ffffff;left:-75.50px;width:800px;text-align:center;transform-origin:50% 0;-webkit-text-stroke:0.2px #ffa300;transform:scaleX(1.0090);">to be a medical advice, diagnosis or treatment.</div>
<div class="t" id="f6" style="top:4015.22px;font-size:13.83px;line-height:13.83px;color:#ffe0a6;font-weight:bold;left:-75.25px;width:800px;text-align:center;transform-origin:50% 0;transform:scaleX(0.9592);">Available on your desktop, tablet and mobile phone</div>
</body></html>
